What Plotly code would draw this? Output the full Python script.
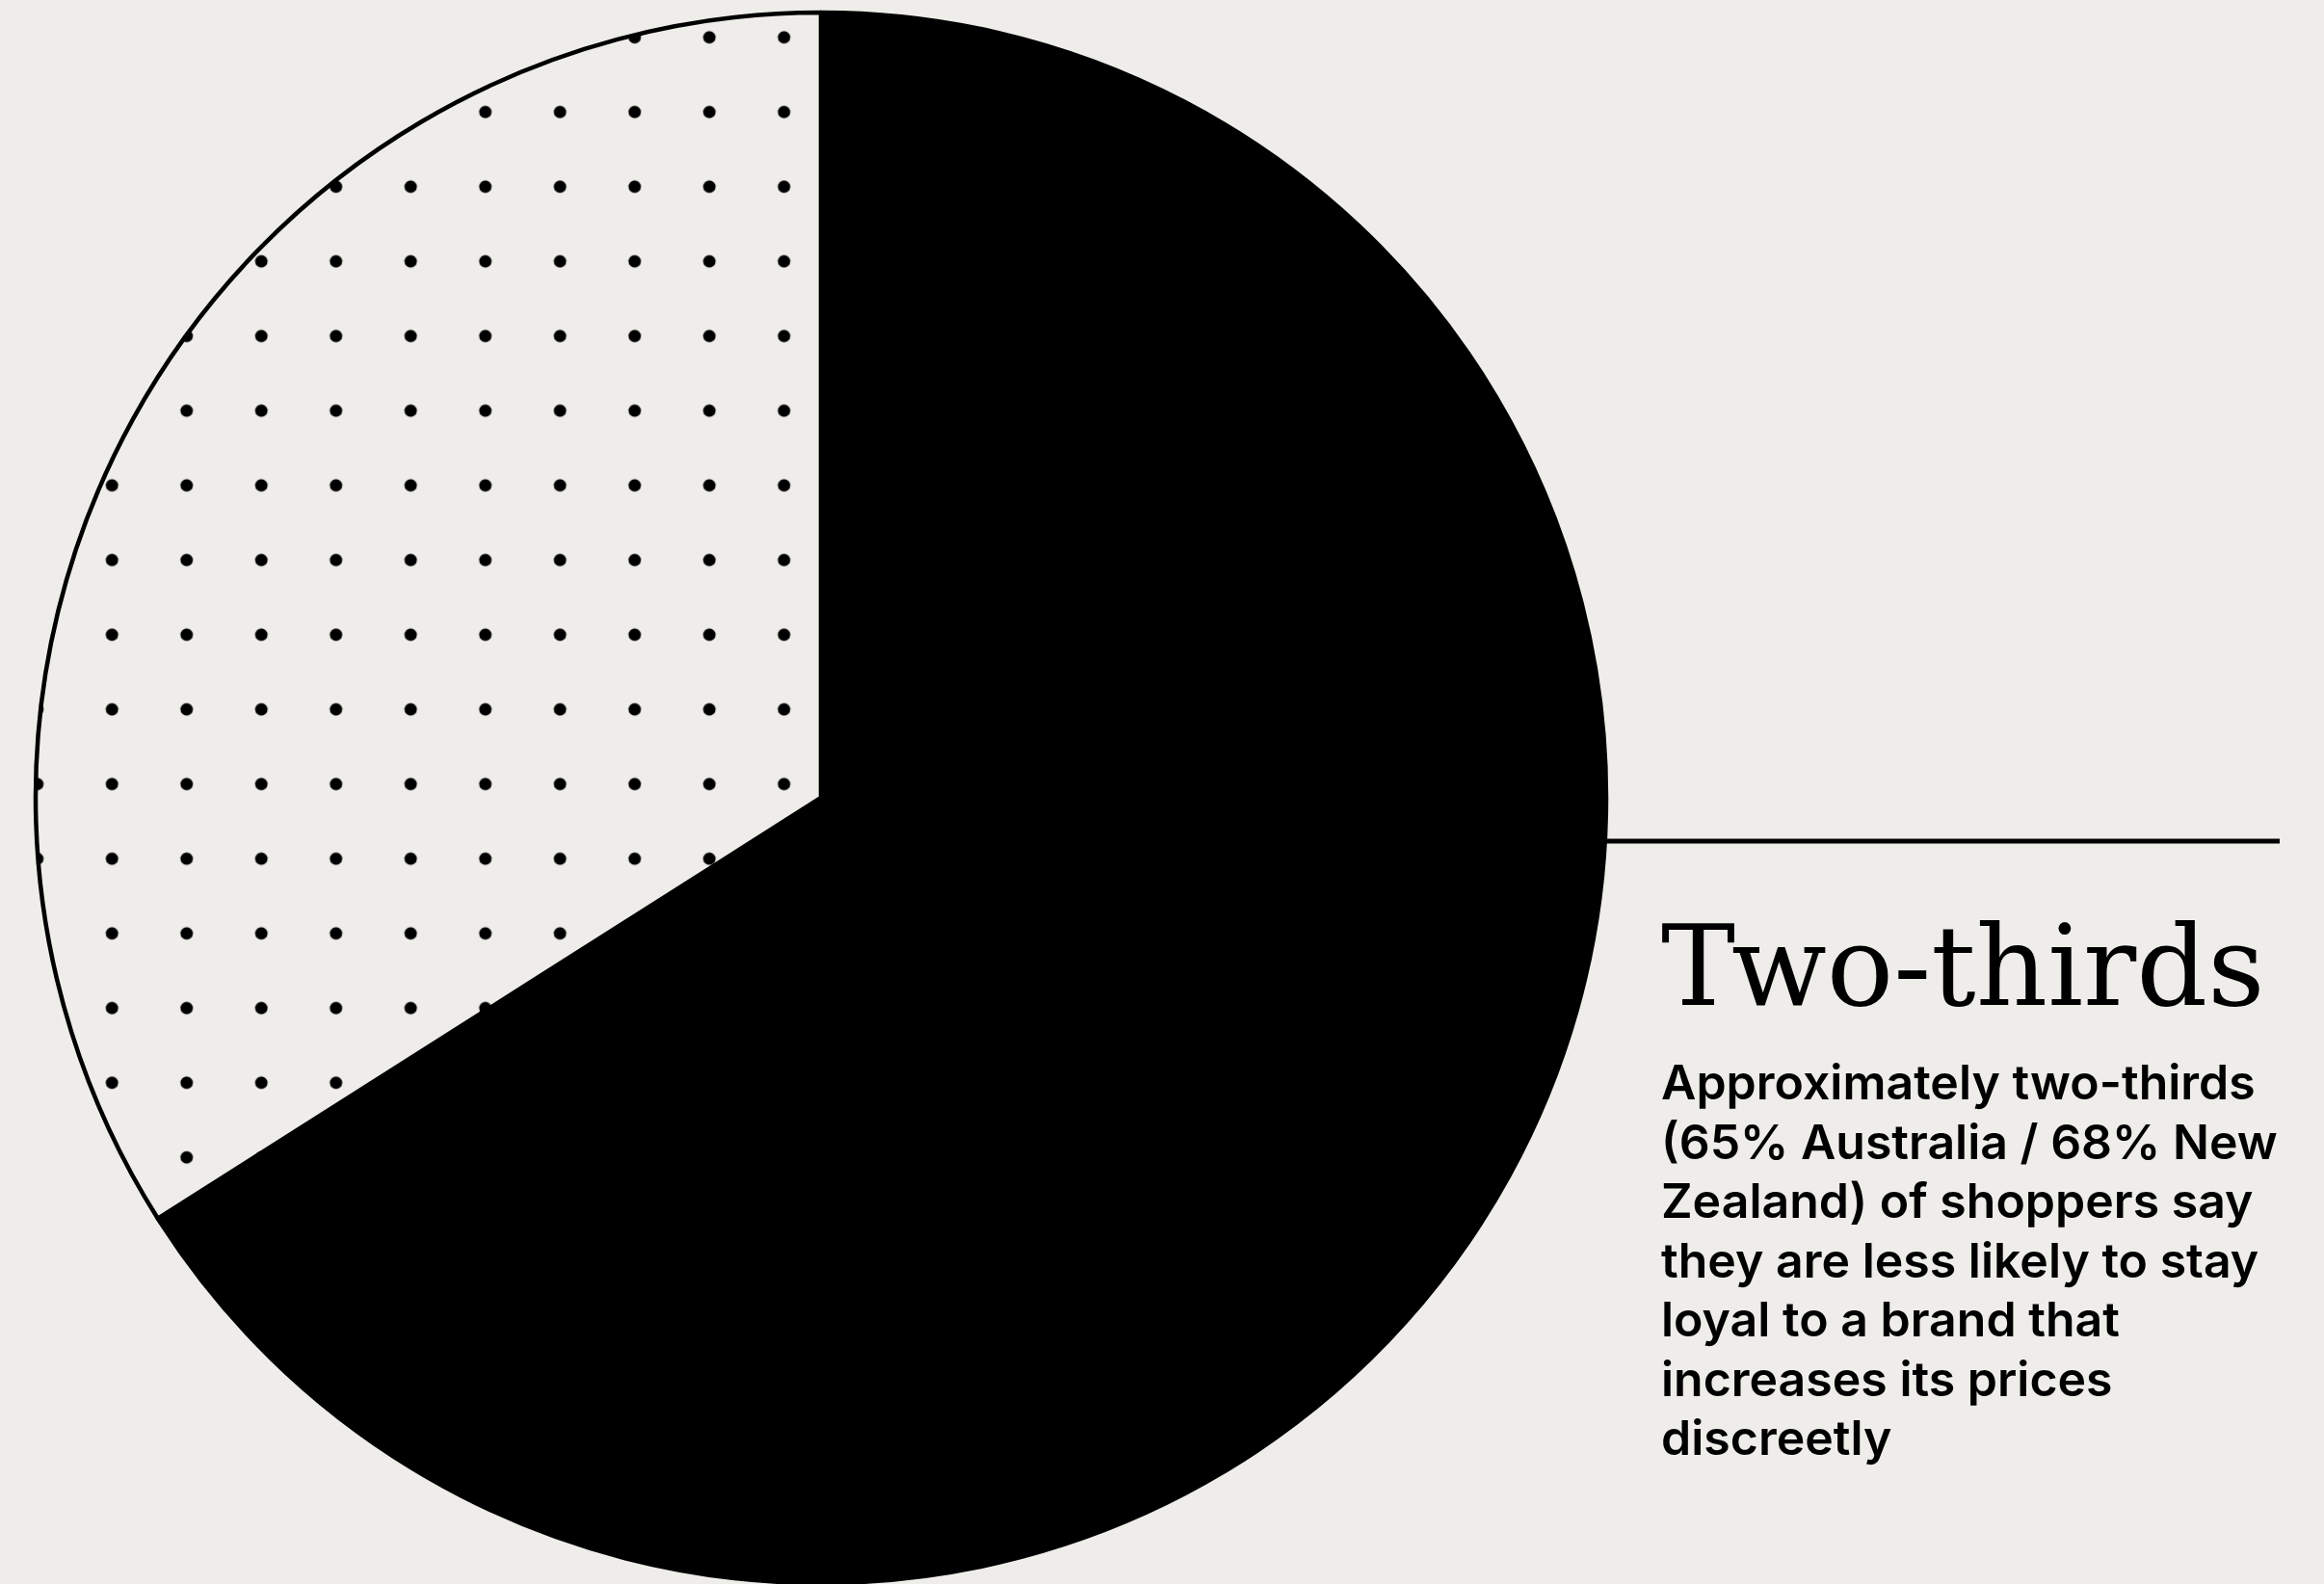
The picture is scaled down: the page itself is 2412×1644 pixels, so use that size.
import plotly.graph_objects as go

# ---- data ----
slice_labels = ["Less likely to stay loyal", "Other"]
slice_values = [66, 34]
headline = "Two-thirds"
body_lines = [
    "Approximately two-thirds",
    "(65% Australia / 68% New",
    "Zealand) of shoppers say",
    "they are less likely to stay",
    "loyal to a brand that",
    "increases its prices",
    "discreetly",
]

W, H = 2412, 1644
BG = "#eeede9"

cx, cy, R = 852, 828, 815

fig = go.Figure()
fig.add_trace(go.Pie(
    labels=slice_labels,
    values=slice_values,
    sort=False,
    direction="clockwise",
    rotation=0,
    textinfo="none",
    hoverinfo="label+percent",
    showlegend=False,
    domain=dict(x=[(cx - R) / W, (cx + R) / W],
                y=[(H - cy - R) / H, (H - cy + R) / H]),
    marker=dict(
        colors=["#000000", BG],
        line=dict(color="#000000", width=4.5),
        pattern=dict(shape=["", "."], fgcolor="#000000",
                     bgcolor=["#000000", BG], size=77.5, solidity=0.022,
                     fillmode="replace"),
    ),
))

# connector rule
fig.add_shape(type="line", xref="paper", yref="paper",
              x0=1667 / W, x1=2366 / W, y0=(H - 873) / H, y1=(H - 873) / H,
              line=dict(color="#000000", width=5))

x_text = 1722 / W
# headline (baseline ~1042)
fig.add_annotation(text=headline, xref="paper", yref="paper",
                   x=x_text, y=(H - 1003) / H, xanchor="left", yanchor="middle",
                   showarrow=False,
                   font=dict(family="DejaVu Serif", size=115.5, color="#000000"))

base0 = 1140
step = 61.5
for i, line in enumerate(body_lines):
    b = base0 + step * i
    fig.add_annotation(text=line, xref="paper", yref="paper",
                       x=x_text, y=(H - (b - 17)) / H, xanchor="left", yanchor="middle",
                       showarrow=False,
                       font=dict(family="Inter", size=50, color="#000000", weight=600))

fig.update_layout(
    width=W, height=H,
    margin=dict(l=0, r=0, t=0, b=0),
    paper_bgcolor=BG, plot_bgcolor=BG,
)

fig.write_html(
    "out.html",
    config={"displayModeBar": False},
    post_script="document.body.style.margin='0';document.body.style.background='" + BG + "';",
)
